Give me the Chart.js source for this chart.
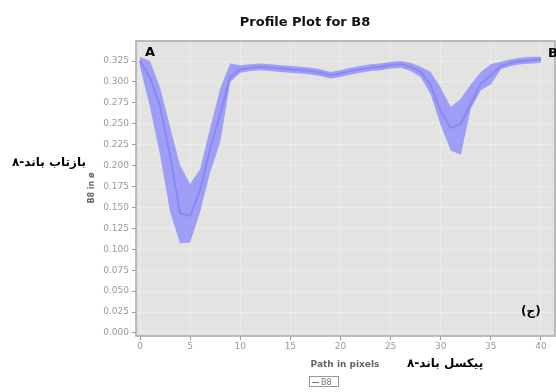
<!DOCTYPE html>
<html>
<head>
<meta charset="utf-8">
<script src="https://cdn.jsdelivr.net/npm/chart.js@4.4.1/dist/chart.umd.min.js"></script>
<style>
  html, body { margin: 0; padding: 0; background: #fff; }
  #wrap { position: relative; width: 556px; height: 392px; overflow: hidden; background: #fff; }
  #c { position: absolute; left: 0; top: 0; }
  .t { position: absolute; white-space: nowrap; line-height: 1; }
</style>
</head>
<body>
<div id="wrap">
  <canvas id="c" width="556" height="392"></canvas>
  <div class="t" id="title" style="left:305px; top:14px; transform:translateX(-50%); font:bold 13px 'DejaVu Sans'; color:#111;">Profile Plot for B8</div>
  <div class="t" style="left:145px; top:44px; font:bold 13px 'DejaVu Sans'; color:#000;">A</div>
  <div class="t" style="left:548px; top:45px; font:bold 13px 'DejaVu Sans'; color:#000;">B</div>
  <div class="t" style="left:521px; top:304px; font:bold 12px 'DejaVu Sans'; color:#000;">(ج)</div>
  <div class="t" style="left:91px; top:188px; transform:translate(-50%,-50%) rotate(-90deg); font:bold 8px 'DejaVu Sans'; color:#666;">B8 in ø</div>
  <div class="t" dir="rtl" style="left:12px; top:155px; font:bold 12px 'DejaVu Sans'; color:#000;">بازتاب باند-۸</div>
  <div class="t" style="left:345px; top:359px; transform:translateX(-50%); font:bold 9px 'DejaVu Sans'; color:#666;">Path in pixels</div>
  <div class="t" dir="rtl" style="left:407px; top:356px; font:bold 12px 'DejaVu Sans'; color:#000;">پیکسل باند-۸</div>
  <div class="t" style="left:309px; top:376px; width:30px; height:11px; border:1px solid #999; font:8px 'DejaVu Sans'; color:#777; box-sizing:border-box; padding:1px 0 0 2px;"><span style="display:inline-block;width:7px;height:1px;background:#777;vertical-align:middle;margin-right:2px;"></span>B8</div>
</div>
<script>
// ---- data ----
const pathPixels = [0,1,2,3,4,5,6,7,8,9,10,11,12,13,14,15,16,17,18,19,20,21,22,23,24,25,26,27,28,29,30,31,32,33,34,35,36,37,38,39,40];
const b8Mean  = [0.325,0.305,0.271,0.212,0.143,0.140,0.171,0.220,0.262,0.306,0.315,0.317,0.318,0.317,0.316,0.315,0.314,0.313,0.311,0.308,0.310,0.313,0.315,0.317,0.318,0.320,0.321,0.318,0.312,0.296,0.265,0.245,0.250,0.274,0.298,0.308,0.319,0.323,0.325,0.326,0.327];
const b8Upper = [0.330,0.325,0.293,0.246,0.200,0.178,0.196,0.245,0.292,0.322,0.320,0.321,0.322,0.321,0.320,0.319,0.318,0.317,0.315,0.312,0.314,0.317,0.319,0.321,0.322,0.324,0.325,0.323,0.318,0.312,0.293,0.270,0.280,0.297,0.312,0.321,0.324,0.327,0.329,0.330,0.330];
const b8Lower = [0.318,0.270,0.213,0.145,0.107,0.108,0.145,0.192,0.228,0.300,0.311,0.313,0.314,0.313,0.312,0.311,0.310,0.309,0.307,0.304,0.306,0.309,0.311,0.313,0.314,0.316,0.317,0.313,0.306,0.285,0.248,0.218,0.213,0.268,0.290,0.297,0.315,0.319,0.321,0.322,0.323];
const xTickValues = [0,5,10,15,20,25,30,35,40];
const yTickValues = [0,0.025,0.05,0.075,0.1,0.125,0.15,0.175,0.2,0.225,0.25,0.275,0.3,0.325];

const toPts = arr => pathPixels.map((x, i) => ({x: x, y: arr[i]}));

const plotBg = {
  id: 'plotBg',
  beforeDraw(chart) {
    const {ctx, chartArea: a} = chart;
    ctx.save();
    ctx.fillStyle = '#e3e3e1';
    ctx.fillRect(a.left, a.top, a.right - a.left, a.bottom - a.top);
    ctx.restore();
  },
  afterDraw(chart) {
    const {ctx, chartArea: a} = chart;
    ctx.save();
    ctx.strokeStyle = '#a8a8a8';
    ctx.lineWidth = 1.5;
    ctx.strokeRect(a.left, a.top, a.right - a.left, a.bottom - a.top);
    ctx.restore();
  }
};

new Chart(document.getElementById('c'), {
  type: 'line',
  data: {
    datasets: [
      { label: 'lower', data: toPts(b8Lower), borderWidth: 0, pointRadius: 0, fill: false, borderColor: 'rgba(0,0,0,0)' },
      { label: 'upper', data: toPts(b8Upper), borderWidth: 0, pointRadius: 0, fill: '-1', borderColor: 'rgba(0,0,0,0)', backgroundColor: 'rgba(148,148,248,0.88)' },
      { label: 'B8', data: toPts(b8Mean), borderWidth: 2, pointRadius: 0, fill: false, borderColor: '#3434c4' }
    ]
  },
  options: {
    responsive: false,
    animation: false,
    devicePixelRatio: 1,
    layout: { padding: { top: 41, left: 0, right: 1, bottom: 0 } },
    plugins: { legend: { display: false }, title: { display: false }, tooltip: { enabled: false } },
    elements: { line: { tension: 0 } },
    scales: {
      x: {
        type: 'linear',
        min: -0.4, max: 41.4,
        afterBuildTicks(s) { s.ticks = xTickValues.map(v => ({value: v})); },
        afterFit(s) { s.height = 56; },
        ticks: { autoSkip: false, maxRotation: 0, padding: 1, color: '#999', font: { family: 'DejaVu Sans', size: 9 }, callback: v => String(v) },
        grid: { color: 'rgba(255,255,255,0.3)', tickColor: '#999', tickLength: 4 },
        border: { display: false }
      },
      y: {
        type: 'linear',
        min: -0.0036, max: 0.3489,
        afterBuildTicks(s) { s.ticks = yTickValues.map(v => ({value: v})); },
        afterFit(s) { s.width = 136; },
        ticks: { autoSkip: false, padding: 3, color: '#999', font: { family: 'DejaVu Sans', size: 9 }, callback: v => Number(v).toFixed(3) },
        grid: { color: 'rgba(255,255,255,0.3)', tickColor: '#999', tickLength: 4 },
        border: { display: false }
      }
    }
  },
  plugins: [plotBg]
});
</script>
</body>
</html>
